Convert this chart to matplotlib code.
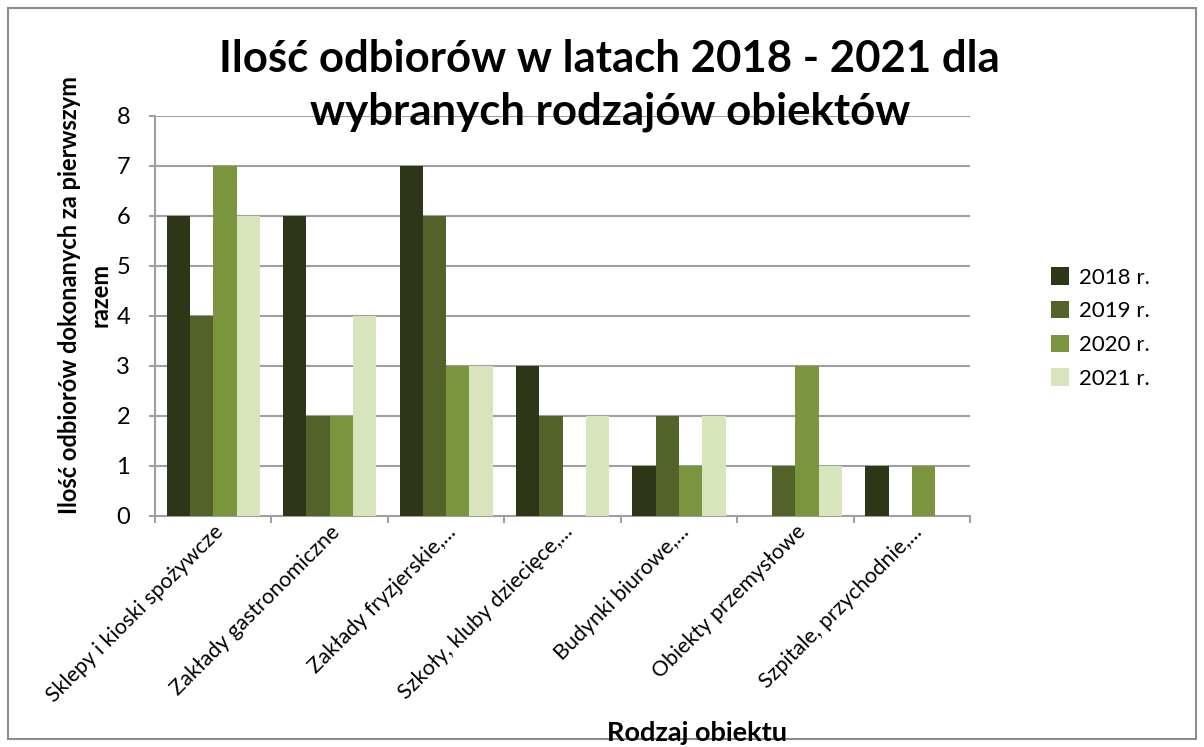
import numpy as np
import matplotlib.pyplot as plt
from matplotlib.patches import Rectangle

plt.rcParams['font.family'] = ['Lato', 'DejaVu Sans']

categories = ["Sklepy i kioski spożywcze", "Zakłady gastronomiczne", "Zakłady fryzjerskie,...",
              "Szkoły, kluby dziecięce,...", "Budynki biurowe,...", "Obiekty przemysłowe",
              "Szpitale, przychodnie,..."]
years = ["2018 r.", "2019 r.", "2020 r.", "2021 r."]
v2018 = [6, 6, 7, 3, 1, 0, 1]
v2019 = [4, 2, 6, 2, 2, 1, 0]
v2020 = [7, 2, 3, 0, 1, 3, 1]
v2021 = [6, 4, 3, 2, 2, 1, 0]
colors = ["#2d3718", "#526229", "#7a953d", "#d8e4bc"]

W, H = 1204, 747
fig = plt.figure(figsize=(W / 100, H / 100), dpi=100)
ax = fig.add_axes([155 / W, 1 - 516 / H, 815 / W, 400 / H])

x = np.arange(len(categories))
w = 0.2
series = [v2018, v2019, v2020, v2021]
for i, vals in enumerate(series):
    ax.bar(x + (i - 1.5) * w, vals, w, color=colors[i], label=years[i], zorder=3)

ax.set_xlim(-0.5, len(categories) - 0.5)
ax.set_ylim(0, 8)
ax.set_yticks(range(0, 9))
ax.yaxis.grid(True, color="#a0a0a0", linewidth=1.5, zorder=0)
# ticks on category boundaries, labels at category centres
ax.set_xticks(np.arange(-0.5, len(categories)))
ax.set_xticklabels([])
ax.set_xticks(x, minor=True)
ax.set_xticklabels(categories, minor=True, rotation=45, ha="right", va="top",
                   rotation_mode="anchor", fontsize=15.5)
ax.tick_params(axis="x", which="minor", length=0, pad=4)
ax.tick_params(axis="x", which="major", length=5, color="#a0a0a0", width=1.5)
ax.tick_params(axis="y", length=4, color="#a0a0a0", width=1.5, labelsize=17, pad=14)
for s in ["top", "right"]:
    ax.spines[s].set_visible(False)
for s in ["left", "bottom"]:
    ax.spines[s].set_color("#a0a0a0")
    ax.spines[s].set_linewidth(1.5)

fig.text(85 / W, 1 - 295 / H, "Ilość odbiorów dokonanych za pierwszym\nrazem",
         rotation=90, ha="center", va="center", fontsize=17, fontweight="bold",
         linespacing=1.4, multialignment="center")

fig.text(697 / W, 1 - 733 / H, "Rodzaj obiektu", ha="center", va="center",
         fontsize=19.5, fontweight="bold")

fig.text(609 / W, 1 - 72 / H, "Ilość odbiorów w latach 2018 - 2021 dla",
         ha="center", va="baseline", fontsize=31.5, fontweight="bold")
fig.text(610 / W, 1 - 125 / H, "wybranych rodzajów obiektów",
         ha="center", va="baseline", fontsize=31.5, fontweight="bold")

ax.legend(loc="center left", bbox_to_anchor=(1031 / W, 1 - 328 / H),
          bbox_transform=fig.transFigure, frameon=False, fontsize=16,
          handlelength=0.82, handleheight=0.82, handletextpad=0.45, labelspacing=0.6)

fig.patches.append(Rectangle((8 / W, 8 / H), 1 - 16 / W, 1 - 16 / H, transform=fig.transFigure,
                             fill=False, edgecolor="#8c8c8c", linewidth=1.5))

fig.savefig("out.png", dpi=100)
